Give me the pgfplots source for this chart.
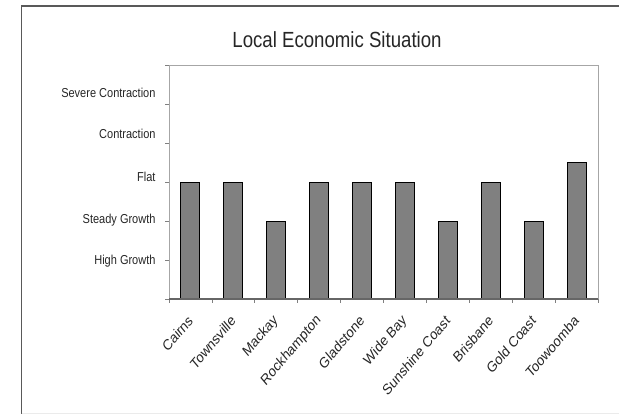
\documentclass[border=0pt]{standalone}
\usepackage{pgfplots}
\pgfplotsset{compat=1.18}
\usepackage{fontspec}
\setmainfont{Liberation Sans}
\begin{document}
\begin{tikzpicture}
\useasboundingbox (0bp,0bp) rectangle (619bp,414bp);
\fill[white] (0bp,0bp) rectangle (619bp,414bp);
\draw[line width=1.5bp, black!65] (21.5bp,0bp) -- (21.5bp,408bp) -- (619bp,408bp);
\draw[line width=1bp, black!8] (21.5bp,1bp) -- (619bp,1bp);
\node[anchor=base, font=\fontsize{22}{25}\selectfont, text=black!85, inner sep=0pt, xscale=0.85] at (337bp,366bp) {Local Economic Situation};
\begin{axis}[
  at={(169bp,115bp)}, anchor=south west, scale only axis,
  width=429bp, height=234bp,
  xmin=-0.5, xmax=9.5, ymin=0, ymax=6,
  ybar, bar width=19bp,
  axis line style={black!35, line width=1bp},
  xtick={0,...,9},
  xticklabels={Cairns,Townsville,Mackay,Rockhampton,Gladstone,Wide Bay,Sunshine Coast,Brisbane,Gold Coast,Toowoomba},
  ytick={0.97,2.03,3.13,4.23,5.28},
  yticklabels={High Growth,Steady Growth,Flat,Contraction,Severe Contraction},
  minor xtick={-0.5,0.5,...,9.5},
  minor ytick={0,1,...,6},
  major tick length=0pt,
  minor tick length=4bp,
  tick align=outside,
  xtick pos=bottom, ytick pos=left,
  minor tick style={black!50, line width=0.8bp},
  yticklabel style={font=\fontsize{13}{15}\selectfont, text=black!85, xshift=-10.5bp, xscale=0.85},
  xticklabel style={font=\fontsize{15}{17}\selectfont, text=black!85, anchor=east, inner sep=0pt, cm={0.601,0.707,-0.601,0.707,(0,0)}},
  xticklabel shift=19bp,
]
\addplot[fill=black!50, draw=black, line width=1bp] coordinates {(0,3) (1,3) (2,2) (3,3) (4,3) (5,3) (6,2) (7,3) (8,2) (9,3.5)};
\end{axis}
\draw[black!60, line width=1.2bp] (169bp,115bp) -- (598bp,115bp);
\end{tikzpicture}
\end{document}
